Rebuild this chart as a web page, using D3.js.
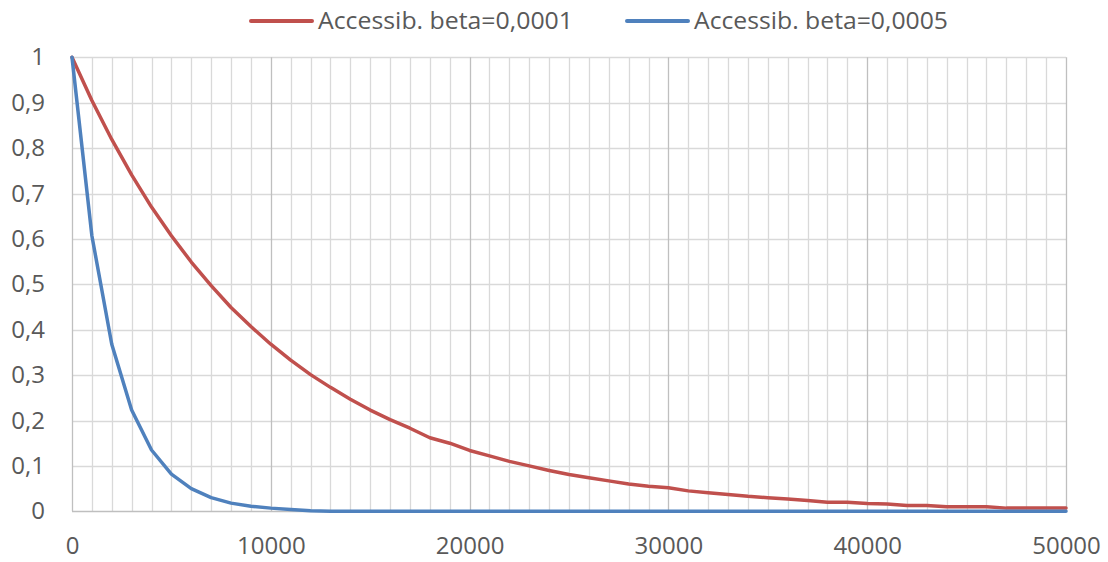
<!DOCTYPE html>
<html>
<head>
<meta charset="utf-8">
<script src="https://cdn.jsdelivr.net/npm/d3@7"></script>
<style>
  html, body { margin: 0; padding: 0; background: #fff; }
  svg { display: block; }
  text { font-family: "Open Sans", sans-serif; fill: #595959; }
</style>
</head>
<body>
<svg id="chart" width="1108" height="562"></svg>
<script>
// ---- data ----
const distances = [0,1000,2000,3000,4000,5000,6000,7000,8000,9000,10000,11000,12000,13000,14000,15000,16000,17000,18000,19000,20000,21000,22000,23000,24000,25000,26000,27000,28000,29000,30000,31000,32000,33000,34000,35000,36000,37000,38000,39000,40000,41000,42000,43000,44000,45000,46000,47000,48000,49000,50000];
const accessBeta0001 = [1.000,0.905,0.819,0.741,0.670,0.607,0.549,0.497,0.449,0.407,0.368,0.333,0.301,0.273,0.247,0.223,0.202,0.183,0.162,0.150,0.134,0.122,0.110,0.100,0.090,0.081,0.074,0.067,0.060,0.055,0.052,0.045,0.041,0.037,0.033,0.030,0.027,0.024,0.020,0.020,0.017,0.016,0.013,0.013,0.010,0.010,0.010,0.007,0.007,0.007,0.007];
const accessBeta0005 = [1.000,0.607,0.368,0.223,0.135,0.082,0.050,0.030,0.018,0.011,0.007,0.004,0.001,0,0,0,0,0,0,0,0,0,0,0,0,0,0,0,0,0,0,0,0,0,0,0,0,0,0,0,0,0,0,0,0,0,0,0,0,0,0];
const seriesNames = ["Accessib. beta=0,0001", "Accessib. beta=0,0005"];
const seriesColors = ["#c0504d", "#4f81bd"];
const xTickValues = [0,10000,20000,30000,40000,50000];
const yTickValues = [0,0.1,0.2,0.3,0.4,0.5,0.6,0.7,0.8,0.9,1];
const yTickLabels = ["0","0,1","0,2","0,3","0,4","0,5","0,6","0,7","0,8","0,9","1"];

(function () {
// ---- layout ----
const svg = d3.select("#chart");
const pLeft = 72, pRight = 1066, pTop = 57.3, pBottom = 511.3;
const x = d3.scaleLinear().domain([0, 50000]).range([pLeft, pRight]);
const y = d3.scaleLinear().domain([0, 1]).range([pBottom, pTop]);
const fontFam = '"Open Sans", sans-serif';

// minor vertical grid (every 1000)
const g = svg.append("g");
g.selectAll("line.vminor").data(distances.filter(d => d % 10000 !== 0))
  .join("line").attr("class","vminor")
  .attr("x1", d => Math.round(x(d)) + 0.5).attr("x2", d => Math.round(x(d)) + 0.5)
  .attr("y1", pTop).attr("y2", pBottom)
  .attr("stroke", "#d9d9d9").attr("stroke-width", 1.3);
// horizontal grid
g.selectAll("line.h").data(yTickValues)
  .join("line").attr("class","h")
  .attr("x1", pLeft).attr("x2", pRight)
  .attr("y1", d => Math.round(y(d)) + 0.5).attr("y2", d => Math.round(y(d)) + 0.5)
  .attr("stroke", d => d === 0 ? "#bfbfbf" : "#d9d9d9").attr("stroke-width", 1.3);
// major vertical grid (every 10000)
g.selectAll("line.vmajor").data(xTickValues)
  .join("line").attr("class","vmajor")
  .attr("x1", d => Math.round(x(d)) + 0.5).attr("x2", d => Math.round(x(d)) + 0.5)
  .attr("y1", pTop).attr("y2", pBottom)
  .attr("stroke", "#bfbfbf").attr("stroke-width", 1.3);

// axes labels via d3 axes
const xAxis = d3.axisBottom(x).tickValues(xTickValues).tickSize(0).tickPadding(26).tickFormat(d3.format("d"));
const xg = svg.append("g").attr("transform", `translate(0,${pBottom})`).call(xAxis);
xg.select(".domain").remove();
xg.selectAll("text").style("font-size", "24px").attr("fill", "#595959").style("font-family", fontFam);

const yAxis = d3.axisLeft(y).tickValues(yTickValues).tickSize(0).tickPadding(27)
  .tickFormat((d, i) => yTickLabels[i]);
const yg = svg.append("g").attr("transform", `translate(${pLeft},0)`).call(yAxis);
yg.select(".domain").remove();
yg.selectAll("text").style("font-size", "24px").attr("fill", "#595959").style("font-family", fontFam);

// lines
const allSeries = [accessBeta0001, accessBeta0005];
const line = d3.line().x((d, i) => x(distances[i])).y(d => y(d));
svg.selectAll("path.series").data(allSeries)
  .join("path").attr("class","series")
  .attr("d", d => line(d))
  .attr("fill", "none")
  .attr("stroke", (d, i) => seriesColors[i])
  .attr("stroke-width", 3.5)
  .attr("stroke-linejoin", "round")
  .attr("stroke-linecap", "round");

// legend
const legendItems = [
  {name: seriesNames[0], color: seriesColors[0], lx: 251, tx: 318, tw: 255},
  {name: seriesNames[1], color: seriesColors[1], lx: 627, tx: 694, tw: 254}
];
const lg = svg.append("g");
legendItems.forEach(it => {
  lg.append("line").attr("x1", it.lx).attr("x2", it.lx + 61).attr("y1", 21).attr("y2", 21)
    .attr("stroke", it.color).attr("stroke-width", 4).attr("stroke-linecap", "round");
  lg.append("text").attr("x", it.tx).attr("y", 29)
    .style("font-size", "23px").style("font-family", fontFam)
    .attr("textLength", it.tw).attr("lengthAdjust", "spacingAndGlyphs")
    .text(it.name);
});
})();
</script>
</body>
</html>
